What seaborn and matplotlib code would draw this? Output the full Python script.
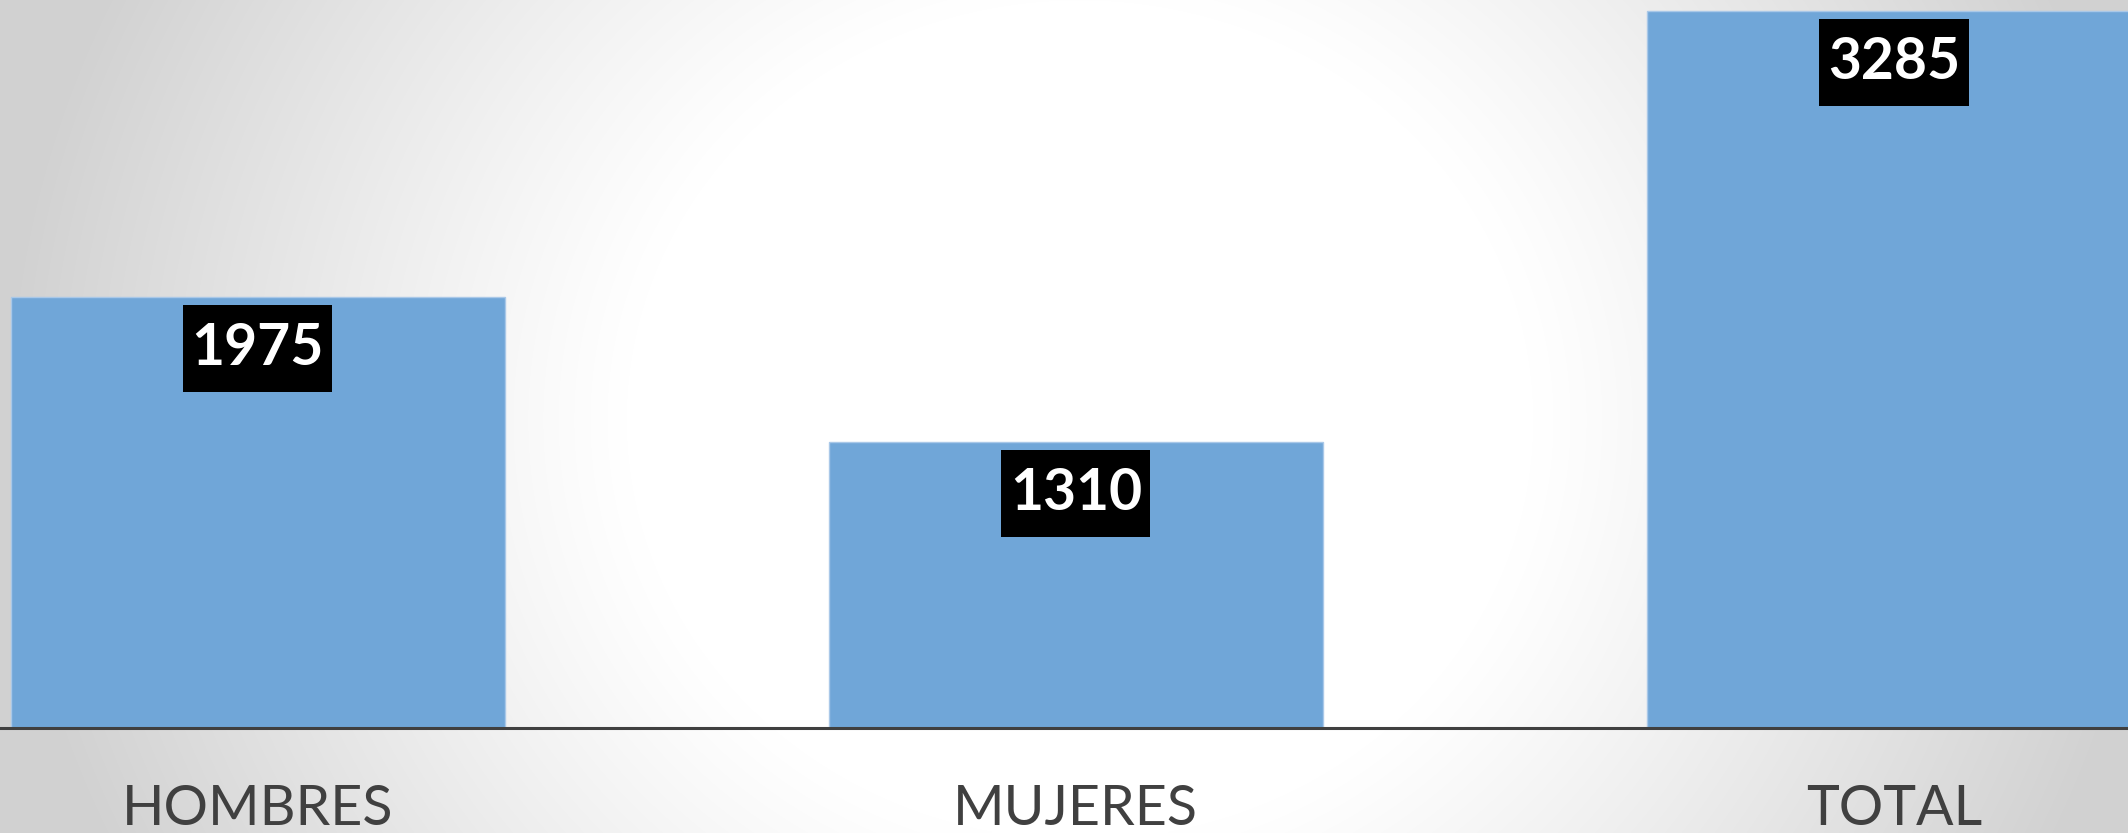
import numpy as np
import pandas as pd
import matplotlib
matplotlib.use('Agg')
import matplotlib.pyplot as plt
import seaborn as sns

categorias = ['HOMBRES', 'MUJERES', 'TOTAL']
valores = [1975, 1310, 3285]

df = pd.DataFrame({'categoria': categorias, 'valor': valores})

sns.set_style('white')
plt.rcParams['font.family'] = ['Lato', 'DejaVu Sans']

fig = plt.figure(figsize=(21.28, 8.33), dpi=100)

# fondo con degradado radial (blanco al centro, gris en los bordes)
bg = fig.add_axes([0, 0, 1, 1], zorder=-10)
yy, xx = np.mgrid[0:833, 0:2128]
d = np.sqrt(((xx - 1080) / 1080.0) ** 2 + ((yy - 420) / 1000.0) ** 2)
t = np.clip((d - 0.42) / 0.58, 0, 1)
g = 1.0 - 0.18 * t ** 1.1
bg.imshow(np.dstack([g, g, g]), aspect='auto', extent=[0, 1, 0, 1])
bg.axis('off')

ax = fig.add_axes([0, 105 / 833, 1, 728 / 833])
ax.patch.set_alpha(0)
sns.barplot(data=df, x='categoria', y='valor', color='#70a6d8', width=0.604,
            saturation=1, edgecolor='#a9c8e8', linewidth=1, ax=ax)

ax.set_xlim(-0.315, 2.286)
ax.set_ylim(0, 3285 * 728 / 717)

for p, v in zip(ax.patches, valores):
    ax.annotate(str(v), (p.get_x() + p.get_width() / 2, p.get_height()),
                xytext=(0, -37), textcoords='offset points',
                ha='center', va='center', fontsize=41, fontweight='bold',
                color='white',
                bbox=dict(boxstyle='square,pad=0.15', fc='black', ec='none',
                          mutation_aspect=2.0))

for s in ['top', 'left', 'right']:
    ax.spines[s].set_visible(False)
ax.spines['bottom'].set_color('#404040')
ax.spines['bottom'].set_linewidth(2.2)
ax.set_yticks([])
ax.set_xlabel('')
ax.set_ylabel('')
ax.tick_params(axis='x', length=0, pad=40, labelsize=40, labelcolor='#404040')

fig.savefig('out.png', dpi=100)
